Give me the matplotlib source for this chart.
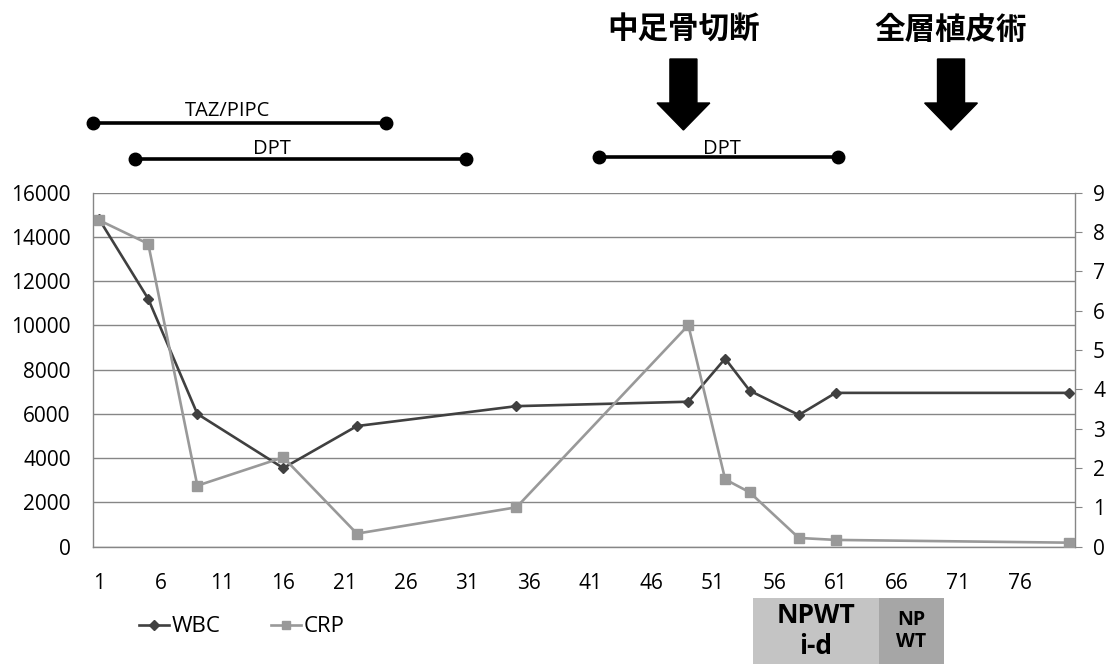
"""
WBC / CRP 推移 + 投薬・手術・NPWT 期間
"""

import matplotlib
matplotlib.use("Agg")
import matplotlib.pyplot as plt
import matplotlib.transforms as mtrans
from matplotlib.lines import Line2D
from matplotlib.patches import Polygon, Rectangle

plt.rcParams["font.family"] = ["Open Sans", "Noto Sans CJK JP", "DejaVu Sans"]

W, H = 1112, 664

# ── data ──
days = [1, 5, 9, 16, 22, 35, 49, 52, 54, 58, 61, 80]
wbc = [14800, 11200, 6000, 3550, 5450, 6350, 6550, 8500, 7050, 5950, 6950, 6950]
crp = [8.3, 7.7, 1.55, 2.27, 0.33, 1.0, 5.63, 1.71, 1.38, 0.22, 0.17, 0.1]

x_ticks = list(range(1, 81, 5))
wbc_ticks = list(range(0, 16001, 2000))
crp_ticks = list(range(0, 10))

drugs = ["TAZ/PIPC", "DPT", "DPT"]
drug_start = [0.5, 3.9, 41.7]
drug_end = [24.4, 30.9, 61.2]
drug_label_x = [11.5, 15.1, 51.7]

surgeries = ["中足骨切断", "全層植皮術"]
surgery_day = [48.6, 70.4]

npwt_labels = ["NPWT\ni-d", "NP\nWT"]
npwt_start = [54.3, 64.5]
npwt_end = [64.5, 69.8]


def fy(px):
    # pixel row (from top) -> figure fraction
    return 1 - px / H


def main():
    fig = plt.figure(figsize=(W / 100, H / 100), dpi=100)
    ax = fig.add_axes([93 / W, fy(546.6), 982 / W, 353.9 / H])
    ax2 = ax.twinx()

    grid_c = "#868686"
    ax.plot(days, wbc, color="#404040", lw=1.9, marker="D", ms=5.5, label="WBC", zorder=3)
    ax2.plot(days, crp, color="#999999", lw=1.9, marker="s", ms=7, label="CRP", zorder=3)

    ax.set_xlim(0.5, 80.5)
    ax.set_ylim(0, 16000)
    ax2.set_ylim(0, 9)
    ax.set_xticks(x_ticks)
    ax.set_yticks(wbc_ticks)
    ax2.set_yticks(crp_ticks)
    ax.yaxis.grid(True, color=grid_c, lw=1)
    ax.set_axisbelow(True)

    for s in ["top", "right"]:
        ax.spines[s].set_visible(False)
    for s in ["top", "left", "bottom"]:
        ax2.spines[s].set_visible(False)
    for sp in [ax.spines["left"], ax.spines["bottom"], ax2.spines["right"]]:
        sp.set_color(grid_c)
        sp.set_linewidth(1)

    ax.tick_params(axis="y", length=0, labelsize=15, pad=16)
    ax.tick_params(axis="x", length=0, labelsize=15, pad=19)
    ax2.tick_params(axis="y", length=5, color=grid_c, labelsize=15, pad=8)

    # ── 投薬期間 ──
    bt = mtrans.blended_transform_factory(ax.transData, fig.transFigure)
    rows = [123, 159, 157]
    label_rows = [111, 149, 149]
    for name, x0, x1, lx, r, lr in zip(drugs, drug_start, drug_end, drug_label_x, rows, label_rows):
        fig.add_artist(Line2D([x0, x1], [fy(r), fy(r)], transform=bt, color="black",
                              lw=2.6, marker="o", ms=9, solid_capstyle="butt"))
        fig.text(lx, fy(lr), name, transform=bt, ha="center", va="center", fontsize=14.5)

    # ── 手術 ──
    for name, d in zip(surgeries, surgery_day):
        fig.text(d, fy(30), name, transform=bt, ha="center", va="center",
                 fontsize=22, fontweight="bold", family=["Noto Sans CJK JP"])
        sw, hw = 1.1, 2.15
        pts = [(d - sw, fy(59)), (d + sw, fy(59)), (d + sw, fy(103)), (d + hw, fy(103)),
               (d, fy(130)), (d - hw, fy(103)), (d - sw, fy(103))]
        fig.add_artist(Polygon(pts, closed=True, transform=bt, color="black"))

    # ── NPWT ──
    box_colors = ["#c4c4c4", "#a6a6a6"]
    sizes = [19, 14]
    for lab, x0, x1, c, fs in zip(npwt_labels, npwt_start, npwt_end, box_colors, sizes):
        fig.add_artist(Rectangle((x0, 0), x1 - x0, fy(598), transform=bt, color=c, lw=0))
        fig.text((x0 + x1) / 2, fy(631), lab, transform=bt, ha="center", va="center",
                 fontsize=fs, fontweight="bold", linespacing=1.15)

    # ── legend ──
    h1, _ = ax.get_legend_handles_labels()
    h2, _ = ax2.get_legend_handles_labels()
    fig.legend(h1 + h2, ["WBC", "CRP"], loc="center left", bbox_to_anchor=(119 / W, fy(627)),
               ncol=2, frameon=False, fontsize=16, handlelength=1.35, handletextpad=0.1,
               columnspacing=2.3, markerscale=0.9)

    fig.savefig("out.png", dpi=100)
    plt.close(fig)


if __name__ == "__main__":
    main()
